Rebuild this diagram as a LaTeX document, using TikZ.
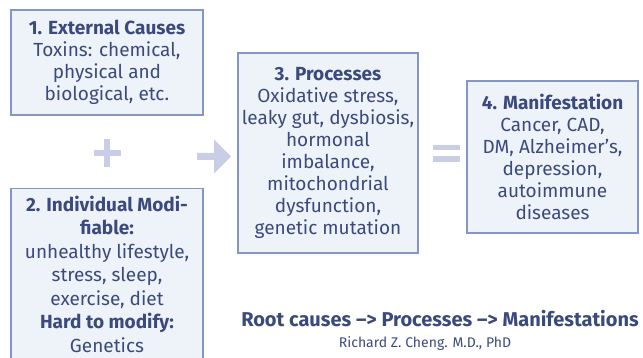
\documentclass[tikz,border=0pt]{standalone}
\usepackage{fontspec}
\setmainfont{Fira Sans}
\usetikzlibrary{positioning}

\definecolor{boxtext}{HTML}{3B4A7C}
\definecolor{boxline}{HTML}{8496C2}
\definecolor{boxfill}{HTML}{EEF3FA}
\definecolor{signfill}{HTML}{C9CDE5}

\tikzstyle{causebox} = [rectangle, draw=boxline, fill=boxfill, line width=1.2pt, text=boxtext, align=center, inner sep=1pt, font=\fontsize{19}{22}\selectfont]
\tikzstyle{sign} = [fill=signfill, draw=none]

\begin{document}
\begin{tikzpicture}[x=1pt, y=-1pt]
	\useasboundingbox (0,0) rectangle (643,358);
	% Place nodes
	\node [causebox, minimum width=192pt, minimum height=105pt] (external) at (107,62.5) {\textbf{1. External Causes}\\Toxins: chemical,\\physical and\\biological, etc.};
	\node [causebox, minimum width=192pt, minimum height=172pt, font=\fontsize{19}{23.5}\selectfont, anchor=north, below=72pt of external.south] (individual) {\textbf{2. Individual Modi-}\\\textbf{fiable:}\\unhealthy lifestyle,\\stress, sleep,\\exercise, diet\\\textbf{Hard to modify:}\\Genetics};
	\node [causebox, minimum width=180pt, minimum height=200pt] (processes) at (328,153) {\textbf{3. Processes}\\Oxidative stress,\\leaky gut, dysbiosis,\\hormonal\\imbalance,\\mitochondrial\\dysfunction,\\genetic mutation};
	\node [causebox, minimum width=171pt, minimum height=152pt] (manifest) at (552.5,157) {\textbf{4. Manifestation}\\Cancer, CAD,\\DM, Alzheimer’s,\\depression,\\autoimmune\\diseases};
	\node [text=boxtext, font=\fontsize{20}{22}\selectfont\bfseries] (slogan) at (440,319) {Root causes –> Processes –> Manifestations};
	\node [text=boxtext, font=\fontsize{14}{16}\selectfont] (author) at (425,344) {Richard Z. Cheng. M.D., PhD};
	% Draw signs
	\coordinate (plus) at (107,153);
	\coordinate (flow) at (214,156.5);
	\coordinate (equal) at (446.5,153.5);
	\fill [sign] ([xshift=-13.5pt, yshift=-3pt]plus) rectangle ([xshift=13.5pt, yshift=3pt]plus);
	\fill [sign] ([xshift=-3pt, yshift=-14pt]plus) rectangle ([xshift=3pt, yshift=14pt]plus);
	\fill [sign] ([xshift=-17pt, yshift=-3.5pt]flow) -- ([xshift=0pt, yshift=-3.5pt]flow) -- ([xshift=0pt, yshift=-17pt]flow) -- ([xshift=17pt]flow) -- ([xshift=0pt, yshift=17pt]flow) -- ([xshift=0pt, yshift=3.5pt]flow) -- ([xshift=-17pt, yshift=3.5pt]flow) -- cycle;
	\fill [sign] ([xshift=-13.5pt, yshift=-8.5pt]equal) rectangle ([xshift=13.5pt, yshift=-3pt]equal);
	\fill [sign] ([xshift=-13.5pt, yshift=3pt]equal) rectangle ([xshift=13.5pt, yshift=8.5pt]equal);
\end{tikzpicture}
\end{document}
